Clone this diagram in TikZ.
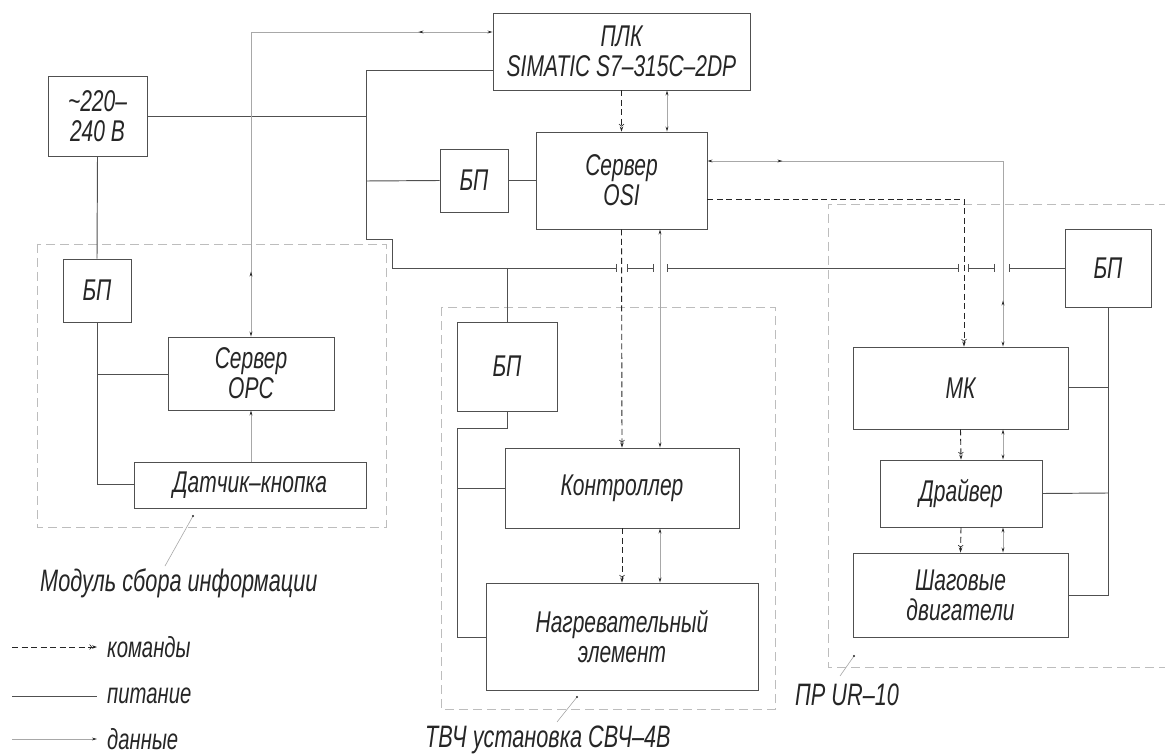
\documentclass[tikz,border=0pt]{standalone}
\usepackage{fontspec}
\setmainfont{Liberation Sans}[FakeStretch=0.7]
\usetikzlibrary{arrows.meta,decorations.markings}
\definecolor{ink}{HTML}{262626}
\definecolor{edge}{HTML}{505050}
\definecolor{dat}{HTML}{A8A8A8}
\definecolor{mod}{HTML}{BDBDBD}
\newcommand{\boxfnt}{\fontsize{30}{30}\selectfont\itshape}
\newcommand{\lblfnt}{\fontsize{31}{32}\selectfont\itshape}
\newcommand{\legfnt}{\fontsize{29}{30}\selectfont\itshape}
\tikzset{
  datatip/.tip={Stealth[length=5pt,width=2.8pt,color=ink]},
  cmdtip/.tip={Straight Barb[length=2pt,width=5pt,line width=0.6pt,color=ink] Stealth[length=5pt,width=3.4pt,color=ink]},
  ticktip/.tip={Bar[width=8pt,line width=0.8pt,color=edge]}
}
\begin{document}
\begin{tikzpicture}[x=1pt,y=-1pt,
  box/.style={draw=edge,line width=0.9pt,fill=white,inner sep=0pt,align=center,text=ink,font=\boxfnt},
  power/.style={draw=edge,line width=0.95pt},
  datal/.style={draw=dat,line width=0.75pt},
  cmd/.style={draw=ink,line width=0.9pt,dash pattern=on 6pt off 3.5pt},
  module/.style={draw=mod,line width=0.8pt,dash pattern=on 9pt off 5pt},
  leader/.style={draw=dat,line width=0.6pt},
  lbl/.style={inner sep=0pt,text=ink,font=\lblfnt,anchor=west},
  leg/.style={inner sep=0pt,text=ink,font=\legfnt,anchor=west}]

\useasboundingbox (0,0) rectangle (1165,754);
\fill[white] (0,0) rectangle (1165,754);

% module frames
\draw[module] (37,244) rectangle (386,527);
\draw[module] (441,307) rectangle (775,709);
\draw[module] (1168,204) -- (828,204) -- (828,667) -- (1168,667);

% blocks
\node[box,minimum width=99pt,minimum height=80pt] (v220) at (97.5,116) {\textasciitilde220–\\240 В};
\node[box,minimum width=257pt,minimum height=77pt] (plc) at (621.5,51.5) {ПЛК\\SIMATIC S7–315C–2DP};
\node[box,minimum width=68pt,minimum height=63pt] (bp0) at (474,180.5) {БП};
\node[box,minimum width=171pt,minimum height=97pt] (osi) at (621.5,180.5) {Сервер\\OSI};
\node[box,minimum width=68pt,minimum height=63pt] (bp1) at (97,290.5) {БП};
\node[box,minimum width=166pt,minimum height=73pt] (opc) at (251,373.5) {Сервер\\OPC};
\node[box,minimum width=232pt,minimum height=46pt] (dat) at (250,485) {Датчик–кнопка};
\node[box,minimum width=100pt,minimum height=89pt] (bp2) at (507,366.5) {БП};
\node[box,minimum width=234pt,minimum height=80pt] (ctrl) at (622,488) {Контроллер};
\node[box,minimum width=272pt,minimum height=107pt] (heat) at (622,636.5) {Нагревательный\\элемент};
\node[box,minimum width=86pt,minimum height=78pt] (bp3) at (1108,268) {БП};
\node[box,minimum width=215pt,minimum height=82pt] (mk) at (960.5,388) {МК};
\node[box,minimum width=162pt,minimum height=67pt] (drv) at (961,493.5) {Драйвер};
\node[box,minimum width=215pt,minimum height=84pt] (stp) at (960.5,595) {Шаговые\\двигатели};

% junction coordinates
\coordinate (pa) at (366,70);
\coordinate (pb) at (366,116);
\coordinate (pc) at (366,181);
\coordinate (pd) at (366,239);
\coordinate (pe) at (392,239);
\coordinate (pf) at (392,268);
\coordinate (pg) at (507,268);
\coordinate (ph) at (507,428);
\coordinate (pi) at (457,428);
\coordinate (pj) at (457,488);
\coordinate (pk) at (457,637);
\coordinate (pl) at (97,374);
\coordinate (pm) at (97,484);
\coordinate (pn) at (1108,387);
\coordinate (po) at (1108,493);
\coordinate (pp) at (1108,595);
\coordinate (s1) at (617,268);
\coordinate (s2) at (627,268);
\coordinate (s3) at (654,268);
\coordinate (s4) at (667,268);
\coordinate (s5) at (959,268);
\coordinate (s6) at (968,268);
\coordinate (s7) at (995,268);
\coordinate (s8) at (1009,268);

% power
\draw[power] (v220.east) -- (pb);
\draw[power] (pa -| plc.west) -- (pa) -- (pd) -- (pe) -- (pf);
\draw[power] (pc) -- (bp0.west);
\draw[power] (bp0.east) -- (osi.west);
\draw[power,-{ticktip}] (pf) -- (s1);
\draw[power,{ticktip}-{ticktip}] (s2) -- (s3);
\draw[power,{ticktip}-{ticktip}] (s4) -- (s5);
\draw[power,{ticktip}-{ticktip}] (s6) -- (s7);
\draw[power,{ticktip}-] (s8) -- (bp3.west);
\draw[power] (pg) -- (bp2.north);
\draw[power] (bp2.south) -- (ph) -- (pi) -- (pk) -- (pk -| heat.west);
\draw[power] (pj) -- (ctrl.west);
\draw[power] (v220.south) -- (bp1.north);
\draw[power] (bp1.south) -- (pm) -- (pm -| dat.west);
\draw[power] (pl) -- (pl -| opc.west);
\draw[power] (bp3.south) -- (pp) -- (stp.east);
\draw[power] (pn) -- (pn -| mk.east);
\draw[power] (po) -- (drv.east);

% commands
\coordinate (c1) at (964,199);
\draw[cmd,-{cmdtip}] (plc.south) -- (osi.north);
\draw[cmd,-{cmdtip}] (osi.south) -- (ctrl.north);
\draw[cmd,-{cmdtip}] (ctrl.south) -- (heat.north);
\draw[cmd,-{cmdtip}] (osi.east |- c1) -- (c1) -- (c1 |- mk.north);
\draw[cmd,-{cmdtip}] (mk.south) -- (drv.north);
\draw[cmd,-{cmdtip}] (drv.south) -- (stp.north);

% data
\coordinate (d1) at (667,0);
\coordinate (d2) at (660,0);
\coordinate (d3) at (1003,161);
\coordinate (d4) at (251,32);
\draw[datal,{datatip}-{datatip},postaction={decorate},
  decoration={markings,mark=at position 65pt with {\arrow{datatip}},
  mark=at position 472pt with {\arrowreversed{datatip}}}]
  (opc.north) -- (d4) -- (d4 -| plc.west);
\draw[datal,-{datatip}] (dat.north -| opc.south) -- (opc.south);
\draw[datal,{datatip}-{datatip}] (plc.south -| d1) -- (osi.north -| d1);
\draw[datal,{datatip}-{datatip}] (osi.south -| d2) -- (ctrl.north -| d2);
\draw[datal,{datatip}-{datatip}] (ctrl.south -| d2) -- (heat.north -| d2);
\draw[datal,{datatip}-{datatip},postaction={decorate},
  decoration={markings,mark=at position 75pt with {\arrow{datatip}},
  mark=at position 435pt with {\arrowreversed{datatip}}}]
  (osi.east |- d3) -- (d3) -- (d3 |- mk.north);
\draw[datal,{datatip}-{datatip}] (mk.south -| d3) -- (drv.north -| d3);
\draw[datal,{datatip}-{datatip}] (drv.south -| d3) -- (stp.north -| d3);

% module labels with leaders
\node[lbl] (lab1) at (40,583) {Модуль сбора информации};
\node[lbl] (lab2) at (425,740) {ТВЧ установка СВЧ–4В};
\node[lbl] (lab3) at (795,695) {ПР UR–10};
\coordinate (l1a) at (193,516);
\coordinate (l1b) at (165,566);
\coordinate (l2a) at (577,697);
\coordinate (l2b) at (557,722);
\coordinate (l3a) at (854,656);
\coordinate (l3b) at (840,676);
\draw[leader] (l1a) -- (l1b);
\draw[leader] (l2a) -- (l2b);
\draw[leader] (l3a) -- (l3b);
\fill[ink] (l1a) circle (1.1pt);
\fill[ink] (l2a) circle (1.1pt);
\fill[ink] (l3a) circle (1.1pt);

% legend
\coordinate (g1a) at (12,647);
\coordinate (g1b) at (97,647);
\coordinate (g2a) at (12,696);
\coordinate (g2b) at (97,696);
\coordinate (g3a) at (12,739);
\coordinate (g3b) at (97,739);
\draw[cmd,-{cmdtip}] (g1a) -- (g1b);
\draw[power] (g2a) -- (g2b);
\draw[datal,-{datatip}] (g3a) -- (g3b);
\node[leg] (t1) at (107,647) {команды};
\node[leg] (t2) at (107,696) {питание};
\node[leg] (t3) at (107,739) {данные};
\end{tikzpicture}
\end{document}
